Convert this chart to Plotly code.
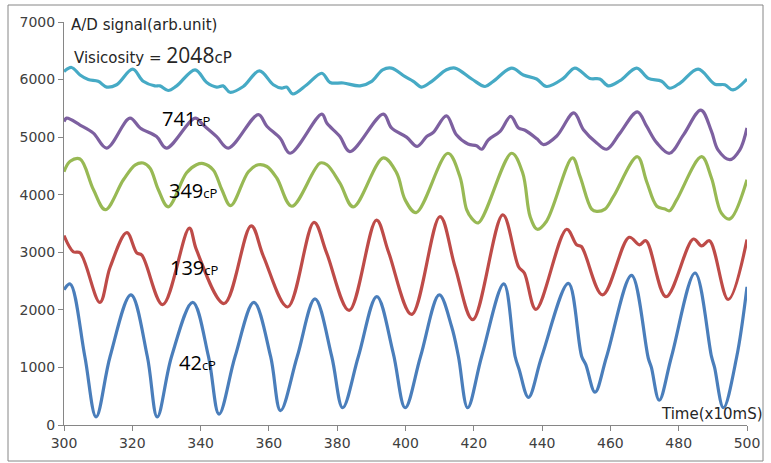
import plotly.graph_objects as go

# ---- data ----
x_42 = [300, 301.8, 306.1, 309.4, 313.5, 319.6, 324.4, 327.3, 331.5, 337.7, 342.3, 345.4, 350.1, 355.6,
        360.5, 363.4, 368.3, 373.5, 378.4, 381.6, 386.2, 391.6, 396.4, 399.9, 404.4, 409.9, 413.5, 415.5,
        418.2, 422.3, 428.8, 432.1, 433.3, 436.0, 439.9, 447.7, 451.6, 452.8, 455.5, 458.9, 466.2, 471.1,
        472.0, 474.3, 477.9, 484.8, 489.6, 490.5, 493.1, 497.0, 500]
y_42 = [2350, 2450, 1190, 140, 1190, 2260, 1190, 140, 1190, 2130, 1190, 190, 1190, 2130,
        1190, 250, 1190, 2190, 1190, 300, 1190, 2230, 1250, 300, 1190, 2260, 1710, 1190,
        300, 1190, 2450, 1190, 960, 480, 1190, 2460, 1190, 1050, 570, 1190, 2600, 1160,
        1000, 430, 1190, 2640, 1190, 1000, 300, 1190, 2400]

x_139 = [300, 302.7, 304.7, 310.5, 313.5, 318.4, 321.3, 322.8, 328.9, 336.7, 338.8, 346.9, 354.8, 358.4,
         365.5, 373.2, 376.9, 383.5, 391.5, 395.0, 401.8, 410.1, 414.5, 419.7, 428.5, 433.1, 434.8,
         438.2, 447.2, 450.1, 451.5, 457.7, 465.5, 468.5, 470.4, 476.3, 484.3, 486.7, 489.0, 494.5, 500]
y_139 = [3290, 3010, 2990, 2130, 2740, 3340, 2990, 2950, 2090, 3420, 3040, 2110, 3460, 2930,
         2050, 3520, 2990, 1990, 3560, 3010, 1920, 3620, 2750, 1830, 3650, 2750, 2640,
         2010, 3400, 3130, 3100, 2260, 3260, 3130, 3200, 2230, 3230, 3110, 3200, 2180, 3220]

x_349 = [300, 301.8, 304.7, 308.6, 312.1, 317.4, 320.9, 323.2, 325.2, 327.6, 330.5, 335.9, 338.8, 340.8,
         343.7, 346.2, 348.8, 354.0, 356.9, 359.4, 362.3, 366.7, 375.0, 377.0, 380.8, 384.7, 393.5,
         397.4, 399.9, 403.1, 412.4, 415.9, 417.9, 419.4, 421.3, 431.1, 434.3, 436.5, 438.6, 441.3,
         448.9, 451.1, 454.5, 456.0, 458.4, 460.9, 467.9, 470.6, 473.6, 476.0, 477.3, 479.4, 486.7,
         489.6, 492.5, 495.0, 500]
y_349 = [4400, 4580, 4620, 4090, 3740, 4260, 4520, 4550, 4460, 4090, 3790, 4380, 4520, 4540,
         4430, 4090, 3810, 4400, 4520, 4490, 4290, 3800, 4550, 4520, 4200, 3790, 4640,
         4380, 3910, 3690, 4720, 4320, 3740, 3590, 3510, 4720, 4380, 3620, 3400, 3540,
         4640, 4320, 3750, 3710, 3750, 3970, 4660, 4230, 3800, 3750, 3720, 3910, 4660,
         4290, 3680, 3580, 4260]

x_741 = [300, 300.8, 304.7, 308.6, 312.5, 319.3, 322.3, 327.1, 330.0, 338.4, 340.8, 344.7, 348.1, 356.9,
         359.4, 363.3, 366.2, 375.5, 377.0, 380.8, 383.7, 393.5, 395.9, 400.3, 403.4, 406.2, 408.1,
         412.0, 414.9, 418.3, 420.8, 422.3, 424.2, 427.7, 430.8, 433.1, 435.0, 438.5, 440.4, 444.3,
         449.3, 452.1, 456.0, 458.9, 462.8, 467.9, 470.6, 473.6, 477.3, 481.4, 486.5, 489.6, 491.5,
         495.0, 497.9, 500]
y_741 = [5270, 5330, 5210, 5070, 4810, 5330, 5160, 5010, 4810, 5330, 5210, 5010, 4810, 5390,
         5190, 4980, 4720, 5400, 5240, 5010, 4750, 5400, 5160, 5000, 4840, 5010, 5080,
         5370, 5040, 4880, 4850, 4790, 4950, 5100, 5360, 5160, 5120, 4970, 4870, 5020,
         5420, 5130, 4900, 4790, 5070, 5440, 5190, 4900, 4720, 5040, 5470, 5100, 4780,
         4610, 4780, 5160]

x_2048 = [300, 302.2, 304.7, 307.1, 310.0, 312.5, 315.4, 320.1, 323.2, 326.6, 328.1, 330.5, 333.0, 338.4,
          341.8, 344.7, 346.6, 348.6, 352.5, 357.2, 361.3, 363.7, 365.2, 367.0, 371.1, 375.5, 377.9,
          381.8, 386.7, 390.1, 393.3, 395.9, 399.9, 402.3, 404.7, 407.7, 412.0, 414.5, 419.4, 423.3,
          425.7, 431.1, 434.5, 438.4, 441.3, 446.2, 449.6, 454.0, 456.9, 459.4, 462.8, 467.7, 471.1,
          475.0, 477.3, 480.4, 485.7, 490.6, 493.5, 495.9, 500]
y_2048 = [6140, 6210, 6080, 6000, 5970, 5870, 5910, 6180, 5970, 5890, 5890, 5810, 5890, 6170,
          5950, 5870, 5890, 5780, 5880, 6150, 5910, 5850, 5870, 5750, 5910, 6110, 5950,
          5940, 5890, 5970, 6170, 6200, 6050, 5970, 5870, 5970, 6170, 6200, 6010, 5880,
          5970, 6200, 6080, 6010, 5880, 6020, 6200, 6020, 6010, 5890, 5980, 6200, 6020,
          5970, 5850, 5940, 6180, 5920, 5910, 5820, 6010]

series = [
    (x_42, y_42, "#4A7EBB"),
    (x_139, y_139, "#BE4B48"),
    (x_349, y_349, "#98B954"),
    (x_741, y_741, "#7D60A0"),
    (x_2048, y_2048, "#46AAC5"),
]

x_ticks = [300, 320, 340, 360, 380, 400, 420, 440, 460, 480, 500]
y_ticks = [0, 1000, 2000, 3000, 4000, 5000, 6000, 7000]

fig = go.Figure()
for xs, ys, c in series:
    fig.add_trace(go.Scatter(x=xs, y=ys, mode="lines",
                             line=dict(color=c, width=3.2, shape="spline", smoothing=1.0),
                             showlegend=False, hoverinfo="skip"))

W, H = 771, 463
L, R, T, B = 64, 24, 22, 38
pw, ph = W - L - R, H - T - B

axis_font = dict(family="DejaVu Sans, sans-serif", size=14, color="#404040")
fig.update_layout(
    width=W, height=H, margin=dict(l=L, r=R, t=T, b=B),
    paper_bgcolor="white", plot_bgcolor="white",
    xaxis=dict(range=[300, 500], tickvals=x_ticks, showgrid=False, zeroline=False,
               showline=True, linecolor="#868686", linewidth=1, ticks="outside",
               ticklen=5, tickcolor="#868686", tickfont=axis_font, automargin=False),
    yaxis=dict(range=[0, 7000], tickvals=y_ticks, showgrid=False, zeroline=False,
               showline=True, linecolor="#868686", linewidth=1, ticks="outside",
               ticklen=5, tickcolor="#868686", tickfont=axis_font, automargin=False),
)

# outer chart border
fig.add_shape(type="rect", xref="paper", yref="paper",
              x0=(8 - L) / pw, x1=(763 - L) / pw, y0=(H - B - 461) / ph, y1=(H - B - 5) / ph,
              line=dict(color="#868686", width=1), fillcolor="rgba(0,0,0,0)", layer="below")

def px2x(px):
    return (px - L) / pw

def py2y(py):
    return (H - B - py) / ph

label_font = dict(family="DejaVu Sans, sans-serif", size=15, color="#262626")
num_font = dict(family="Open Sans, Noto Sans, sans-serif", size=20, color="#000000")

fig.add_annotation(x=px2x(69), y=py2y(25), xref="paper", yref="paper", xanchor="left", yanchor="middle",
                   text="A/D signal(arb.unit)", showarrow=False, font=label_font)
fig.add_annotation(x=px2x(72), y=py2y(55), xref="paper", yref="paper", xanchor="left", yanchor="middle",
                   text="Visicosity = <span style='font-size:21px;font-family:Open Sans'>2048</span>cP",
                   showarrow=False, font=label_font)
fig.add_annotation(x=px2x(659), y=py2y(414), xref="paper", yref="paper", xanchor="left", yanchor="middle",
                   text="Time(x10mS)", showarrow=False, font=label_font)

visc = [("741", 160, 118), ("349", 167, 191), ("139", 168, 267), ("42", 177, 362)]
for t, px, py in visc:
    fig.add_annotation(x=px2x(px), y=py2y(py), xref="paper", yref="paper", xanchor="left", yanchor="middle",
                       text=t + "<span style='font-size:13px'>cP</span>", showarrow=False, font=num_font)

fig.write_html("out.html", config={"displayModeBar": False},
               post_script="document.body.style.margin='0';")
